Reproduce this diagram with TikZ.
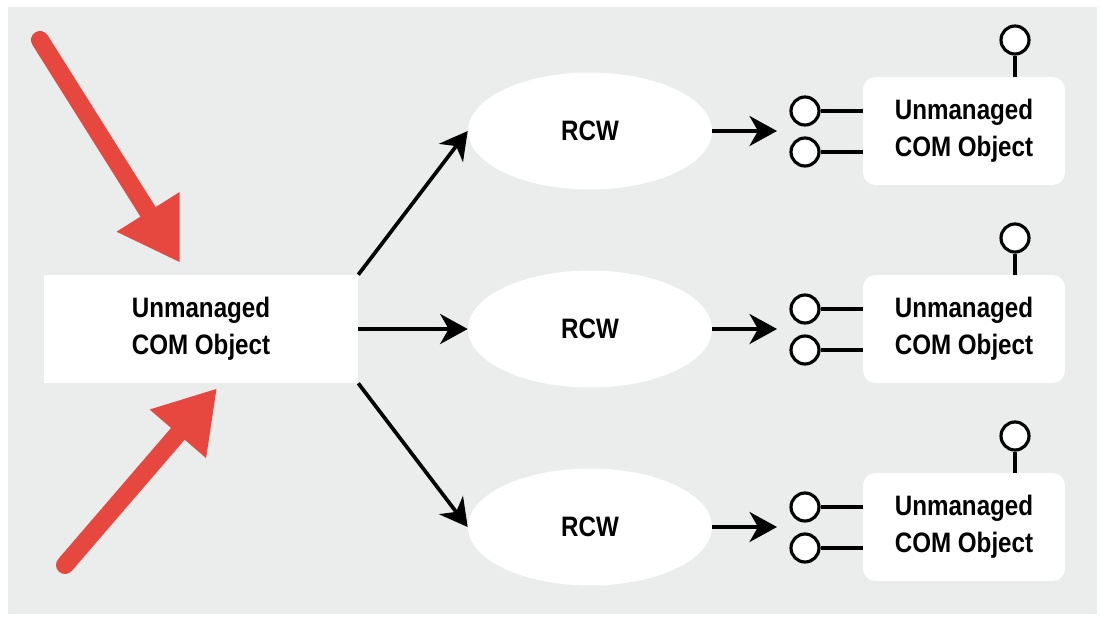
\documentclass[tikz,border=0pt]{standalone}
\usepackage{fontspec}
\setmainfont{Liberation Sans}
\newfontfamily\boxfont[FakeStretch=0.86]{Liberation Sans Bold}
\usepackage{xcolor}
\usepackage{tikz}
\usetikzlibrary{
  shapes.geometric, arrows.meta, positioning, calc
}
\definecolor{panelgray}{RGB}{235,236,236}
\definecolor{arrowred}{RGB}{230,72,64}
\tikzset{
  %% Label font
  lbl/.style={font=\boxfont\fontsize{16}{21}\selectfont, align=center},
  %% Plain white object box
  objbox/.style={
    rectangle, fill=white, lbl,
    minimum width=6.28cm, minimum height=2.16cm
  },
  %% Rounded COM box
  combox/.style={
    rectangle, rounded corners=7pt, fill=white, lbl,
    minimum width=4.04cm, minimum height=2.16cm
  },
  %% Wrapper ellipse
  wrap/.style={
    ellipse, fill=white, lbl,
    minimum width=4.88cm, minimum height=2.34cm
  },
  %% Interface lollipop
  port/.style={
    circle, draw=black, fill=white, line width=1.8pt,
    minimum size=0.56cm, inner sep=0pt
  },
  stem/.style={draw=black, line width=2.1pt},
  %% Arrows
  arr/.style={-{Stealth[length=0.55cm,width=0.6cm,inset=0.17cm]},
              draw=black, line width=2.1pt},
  redarr/.style={-{Triangle[length=1.2cm,width=1.4cm]},
                 draw=arrowred, line width=0.36cm, line cap=round},
}

\begin{document}
\begin{tikzpicture}[x=0.02cm, y=-0.02cm]

  \useasboundingbox (0,0) rectangle (1102,619);
  \fill[panelgray] (8,7) rectangle (1097,614);

  %% Left object
  \node[objbox] (obj) at (201,329) {Unmanaged\\COM Object};

  %% Rows of wrappers and COM objects
  \foreach \i/\y in {1/131, 2/329, 3/527} {
    \node[wrap] (rcw\i) at (590,\y) {RCW};
    \node[combox] (com\i) at (964,\y) {Unmanaged\\COM Object};

    \node[port] (pa\i) at (805,\y-20) {};
    \node[port] (pb\i) at (805,\y+21) {};
    \node[port] (pt\i) at (1015,\y-91) {};
    \draw[stem] (pa\i.east) -- (pa\i.east -| com\i.west);
    \draw[stem] (pb\i.east) -- (pb\i.east -| com\i.west);
    \draw[stem] (pt\i.south) -- (pt\i.south |- com\i.north);

    \coordinate (tip\i) at (777,\y);
    \draw[arr] (rcw\i.east) -- (tip\i);
  }

  %% Fan out
  \draw[arr] (obj.north east) -- (rcw1.west);
  \draw[arr] (obj.east) -- (rcw2.west);
  \draw[arr] (obj.south east) -- (rcw3.west);

  %% Red pointers
  \coordinate (ra) at (40,40);
  \coordinate (rb) at ($(obj.north)+(-21,-12)$);
  \coordinate (rc) at (65,565);
  \coordinate (rd) at ($(obj.south)+(16,5)$);
  \draw[redarr] (ra) -- (rb);
  \draw[redarr] (rc) -- (rd);

\end{tikzpicture}
\end{document}
